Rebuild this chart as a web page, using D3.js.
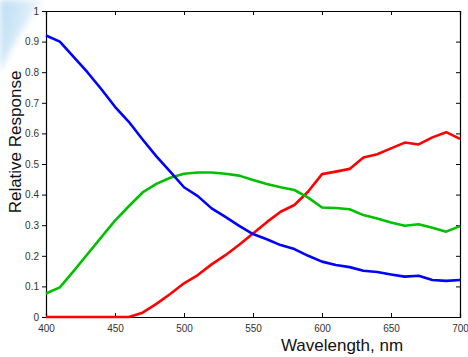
<!DOCTYPE html>
<html>
<head>
<meta charset="utf-8">
<script src="https://cdn.jsdelivr.net/npm/d3@7"></script>
<style>
  html, body { margin: 0; padding: 0; background: #fff; }
  svg { display: block; font-family: "Liberation Sans", Arial, sans-serif; }
</style>
</head>
<body>
<div id="chart"></div>
<script>
// wavelength samples, nm
const wavelengths = [400, 410, 420, 430, 440, 450, 460, 470, 480, 490, 500, 510, 520, 530, 540, 550,
  560, 570, 580, 590, 600, 610, 620, 630, 640, 650, 660, 670, 680, 690, 700];

const blueResponse = [0.92, 0.90, 0.85, 0.80, 0.745, 0.687, 0.638, 0.58, 0.525, 0.475, 0.424, 0.395, 0.355, 0.327, 0.298, 0.271,
  0.254, 0.235, 0.222, 0.20, 0.181, 0.17, 0.163, 0.151, 0.147, 0.139, 0.132, 0.135, 0.121, 0.118, 0.121];
const greenResponse = [0.077, 0.097, 0.15, 0.205, 0.26, 0.315, 0.362, 0.407, 0.435, 0.455, 0.468, 0.472, 0.472, 0.468, 0.462, 0.448,
  0.435, 0.424, 0.415, 0.39, 0.358, 0.356, 0.352, 0.333, 0.322, 0.309, 0.298, 0.303, 0.292, 0.279, 0.297];
const redResponse = [0, 0, 0, 0, 0, 0, 0, 0.014, 0.043, 0.075, 0.11, 0.137, 0.172, 0.202, 0.236, 0.273,
  0.31, 0.344, 0.366, 0.41, 0.467, 0.475, 0.484, 0.521, 0.532, 0.551, 0.57, 0.564, 0.587, 0.604, 0.582];

const xTicks = [400, 450, 500, 550, 600, 650, 700];
const yTicks = [0, 0.1, 0.2, 0.3, 0.4, 0.5, 0.6, 0.7, 0.8, 0.9, 1];

const series = [
  { name: 'red', values: redResponse, color: '#ff0000' },
  { name: 'green', values: greenResponse, color: '#00c000' },
  { name: 'blue', values: blueResponse, color: '#0000ff' }
];

const W = 468, H = 357;
const margin = { top: 11, right: 8, bottom: 40, left: 46 };
const width = W - margin.left - margin.right;
const height = H - margin.top - margin.bottom;

const svg = d3.select('#chart').append('svg')
  .attr('width', W)
  .attr('height', H);

// faint blue swoosh in the top-left corner
const defs = svg.append('defs');
const grad = defs.append('linearGradient')
  .attr('id', 'swoosh')
  .attr('x1', '0').attr('y1', '0').attr('x2', '1').attr('y2', '0.4');
grad.append('stop').attr('offset', '0%').attr('stop-color', '#b9dcf3');
grad.append('stop').attr('offset', '60%').attr('stop-color', '#dcedf9');
grad.append('stop').attr('offset', '100%').attr('stop-color', '#ffffff');
defs.append('filter').attr('id', 'soft')
  .append('feGaussianBlur').attr('stdDeviation', 3);

svg.append('path')
  .attr('d', 'M0,0 L44,0 C30,18 14,40 0,72 Z')
  .attr('fill', 'url(#swoosh)')
  .attr('filter', 'url(#soft)');

const g = svg.append('g')
  .attr('transform', `translate(${margin.left},${margin.top})`);

const x = d3.scaleLinear().domain([400, 700]).range([0, width]);
const y = d3.scaleLinear().domain([0, 1]).range([height, 0]);

// bottom axis, ticks pointing in
g.append('g')
  .attr('transform', `translate(0,${height})`)
  .call(d3.axisBottom(x).tickValues(xTicks).tickSize(-4).tickPadding(8).tickFormat(d3.format('d')));

// top axis, ticks pointing in, no labels
g.append('g')
  .call(d3.axisTop(x).tickValues(xTicks).tickSize(-4).tickFormat(''));

// left axis
g.append('g')
  .call(d3.axisLeft(y).tickValues(yTicks).tickSize(4).tickPadding(3).tickFormat(d => d === 0 || d === 1 ? d3.format('d')(d) : d3.format('.1f')(d)));

// right axis, ticks pointing in
g.append('g')
  .attr('transform', `translate(${width},0)`)
  .call(d3.axisRight(y).tickValues(yTicks).tickSize(-4).tickFormat(''));

g.selectAll('.domain').attr('stroke', '#000').attr('stroke-width', 1.2);
g.selectAll('.tick line').attr('stroke', '#000');
g.selectAll('.tick text').attr('fill', '#333').style('font-size', '10px');

const line = d3.line()
  .x((d, i) => x(wavelengths[i]))
  .y(d => y(d));

g.selectAll('.curve')
  .data(series)
  .enter().append('path')
  .attr('class', 'curve')
  .attr('fill', 'none')
  .attr('stroke', d => d.color)
  .attr('stroke-width', 2.6)
  .attr('stroke-linejoin', 'round')
  .attr('d', d => line(d.values));

// axis titles
svg.append('text')
  .attr('x', margin.left + width * 0.715)
  .attr('y', H - 6)
  .attr('text-anchor', 'middle')
  .style('font-size', '17px')
  .attr('fill', '#111')
  .text('Wavelength, nm');

svg.append('text')
  .attr('transform', `translate(21,142) rotate(-90)`)
  .attr('text-anchor', 'middle')
  .style('font-size', '17px')
  .attr('fill', '#111')
  .text('Relative Response');
</script>
</body>
</html>
